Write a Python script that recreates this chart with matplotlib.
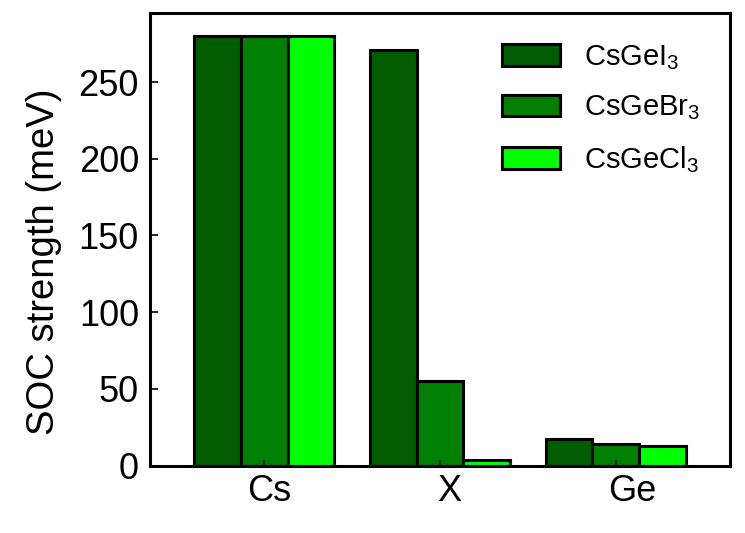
import matplotlib
matplotlib.use('Agg')
import matplotlib.pyplot as plt
import matplotlib.transforms as mtransforms
import numpy as np

plt.rcParams['font.family'] = ['Liberation Sans', 'DejaVu Sans']
plt.rcParams['mathtext.fontset'] = 'custom'
plt.rcParams['mathtext.rm'] = 'Liberation Sans'

# SOC strength (meV) per site, one list per compound
sites = ['Cs', 'X', 'Ge']
compounds = [r'CsGeI$_\mathregular{3}$', r'CsGeBr$_\mathregular{3}$', r'CsGeCl$_\mathregular{3}$']
soc_csgei3 = [280, 271, 17.5]
soc_csgebr3 = [280, 55, 14.3]
soc_csgecl3 = [280, 3.7, 12.8]
colors = ['#005e00', '#008000', '#00ff00']

fig = plt.figure(figsize=(7.45, 5.33), dpi=100)
ax = fig.add_axes([150 / 745, 1 - 465.5 / 533, 580 / 745, 452.5 / 533])

x = np.arange(len(sites))
w = 0.266
for i, (vals, lab, c) in enumerate(zip([soc_csgei3, soc_csgebr3, soc_csgecl3], compounds, colors)):
    ax.bar(x + (i - 1) * w, vals, w, color=c, edgecolor='black', linewidth=2.2, label=lab)

ax.set_xlim(-0.65, 2.65)
ax.set_ylim(0, 295)
ax.set_yticks([0, 50, 100, 150, 200, 250])
ax.set_xticks(x)
ax.set_xticklabels(sites)
ax.tick_params(axis='both', direction='in', labelsize=26, width=1.2)
ax.tick_params(axis='y', length=6, pad=8)
ax.tick_params(axis='x', length=4, pad=6)
# labels sit a little right of the group centres in the original
for lbl, dx in zip(ax.get_xticklabels(), [5, 9, 16]):
    lbl.set_transform(lbl.get_transform() + mtransforms.ScaledTranslation(dx / 100, 0, fig.dpi_scale_trans))
for s in ax.spines.values():
    s.set_linewidth(2.2)

ax.set_ylabel('SOC strength (meV)', fontsize=27.5)
ax.yaxis.set_label_coords((62 - 150) / 580, (465.5 - 262) / 452.5)

ax.legend(loc='upper left', bbox_to_anchor=(502 / 745, 1 - 43 / 533), bbox_transform=fig.transFigure,
          frameon=False, fontsize=21, handlelength=2.0, handleheight=0.75, handletextpad=0.8,
          labelspacing=0.75, borderpad=0, borderaxespad=0)

plt.savefig('out.png', dpi=100)
